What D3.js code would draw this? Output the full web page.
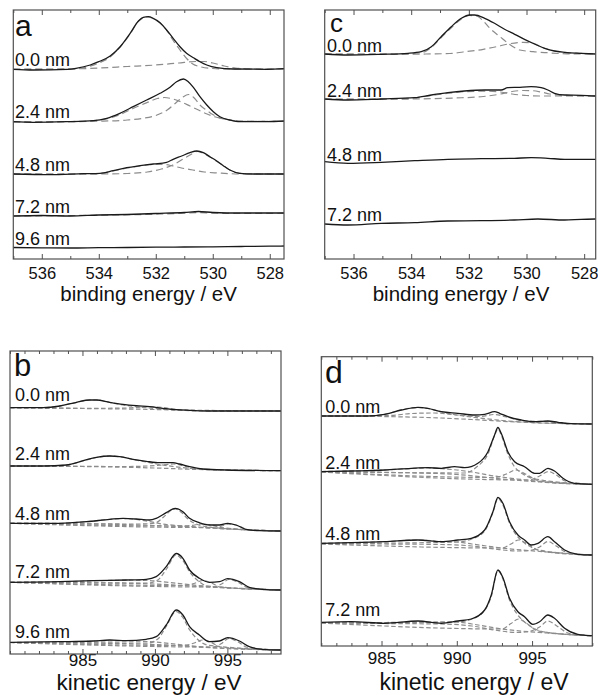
<!DOCTYPE html>
<html><head><meta charset="utf-8">
<script src="https://cdn.jsdelivr.net/npm/d3@7"></script>
<style>
html,body{margin:0;padding:0;background:#fff;}
svg{display:block;font-family:"Liberation Sans",Arial,sans-serif;}
</style></head>
<body>
<svg id="chart" width="598" height="695"></svg>
<script>
// ---------------- DATA ----------------
// panel a : O 1s, binding energy (eV) vs intensity (a.u.)
const ticksA = [536, 534, 532, 530, 528];
const labelsA = ["0.0 nm", "2.4 nm", "4.8 nm", "7.2 nm", "9.6 nm"];
const a00 = [[537,189.7],[536.3,189],[535.1,189.7],[534.8,190.7],[534.3,194],[534,197.3],[533.6,203],[533.25,212.3],[532.9,225.7],[532.6,238.3],[532.44,241.7],[532.26,242.3],[532.09,240.7],[531.85,236.3],[531.62,229],[531.39,220.7],[531.15,212.3],[530.92,205.7],[530.68,201.3],[530.45,197.3],[530.21,194],[529.86,191.3],[529.28,190],[528.1,189.7],[527.5,190.3]];
const a00fit = [
  [[537,190],[535,190],[534.5,191.5],[534,196],[533.6,202],[533.25,212],[532.9,225],[532.6,238],[532.3,242],[532.1,240.5],[531.85,236],[531.6,228],[531.4,219],[531.15,209],[530.9,200],[530.7,195],[530.4,192],[530,190.5],[529.5,190],[527.5,190]],
  [[537,189.5],[535,190],[534,191],[533,192.5],[532,194],[531.2,196],[530.6,197.5],[530.3,197.5],[530,196],[529.6,193],[529.2,191],[528.5,190],[527.5,190]]
];
const a24 = [[537,137.3],[536.3,136.7],[535.13,137.3],[534.19,138.3],[533.72,140.7],[533.26,145.7],[532.79,152.3],[532.32,159],[531.85,165.7],[531.5,171.7],[531.27,177.3],[531.03,180],[530.86,177.3],[530.68,171.7],[530.45,162.3],[530.21,154],[529.98,147.3],[529.75,142.3],[529.4,139],[529.05,137.3],[528.11,137.3],[527.5,138]];
const a24fit = [
  [[537,137],[535,137.5],[534.2,138.3],[533.7,140.3],[533.25,144.5],[532.8,150.5],[532.3,156.5],[531.95,160.5],[531.7,161.5],[531.4,160],[531.1,157],[530.8,153],[530.5,149],[530.2,145],[529.9,142],[529.5,139.5],[529,138],[527.5,137.5]],
  [[537,137],[535,137.3],[534,137.8],[533,139],[532.5,140.5],[532,143.5],[531.6,149],[531.3,156],[531.05,162],[530.85,164.5],[530.65,161],[530.45,154],[530.2,148.5],[530,144.5],[529.75,141],[529.4,139],[529,137.7],[527.5,137.5]]
];
const a48 = [[537,85],[535.71,84.3],[534.54,85.3],[533.96,85.7],[533.49,88.3],[533.02,91.3],[532.55,93.3],[532.09,95],[531.62,96.7],[531.39,99.7],[531.09,103],[530.8,106.3],[530.56,108],[530.33,106.3],[530.1,102.3],[529.86,98],[529.63,93.3],[529.4,89],[529.05,85.7],[528.58,85],[527.5,85]];
const a48fit = [
  [[537,85],[535,85],[534,85.5],[533.5,88],[533,91],[532.5,93.3],[532,94.5],[531.7,94.5],[531.4,93],[531.1,91],[530.7,89],[530.3,87],[529.8,86],[529,85],[527.5,85]],
  [[537,85],[534,85],[533,85.5],[532.3,87],[531.8,90],[531.4,94],[531.1,99],[530.8,104],[530.55,107.5],[530.35,106],[530.1,102],[529.85,97.5],[529.6,93],[529.4,89],[529.05,85.7],[528.5,85],[527.5,85]]
];
const a72 = [[537,43],[536,43.5],[535,43],[534,44],[533,44.5],[532,45.5],[531,46.5],[530.5,47.5],[530,46.5],[529,46],[528,46],[527.5,46]];
const a72fit = [[[537,43],[534,43.8],[532,44.8],[531,45.8],[530.5,46.3],[530,45.8],[529,45.6],[527.5,45.8]]];
const a96 = [[537,11.5],[536,11.2],[535,11],[534,11.3],[533,11.5],[532,11.8],[531,12],[530,12.2],[529,12.5],[528,12.8],[527.5,13]];
const a96fit = [];

// panel c : O 1s, second sample
const ticksC = [536, 534, 532, 530, 528];
const labelsC = ["0.0 nm", "2.4 nm", "4.8 nm", "7.2 nm"];
const c00 = [[537,205],[536.19,204],[535.04,204.7],[534.11,205.7],[533.65,207.3],[533.3,212.3],[532.96,222.3],[532.61,232.3],[532.26,240.7],[531.97,244],[531.8,244],[531.45,240.7],[531.11,235.7],[530.76,229.7],[530.41,224.7],[530.07,219.7],[529.72,215],[529.37,210.7],[529.03,208],[528.68,206.7],[528.1,205.7],[527.6,205]];
const c00fit = [
  [[537,205],[534.5,205],[534,205.3],[533.6,206.5],[533.3,211.5],[532.96,221.5],[532.6,231.5],[532.26,240],[531.97,243.5],[531.73,243],[531.5,238],[531.27,230.7],[530.92,222.3],[530.64,215.7],[530.23,209],[529.77,207.3],[529.3,206.3],[528.6,205.2],[527.6,205]],
  [[537,205],[534.5,204.8],[533.5,205],[532.66,205.5],[532.2,207],[531.5,209.7],[531.04,212.3],[530.64,215],[530.12,216.7],[529.77,215.7],[529.54,212.8],[529.37,210.7],[529.03,208],[528.68,206.7],[528.1,205.7],[527.6,205]]
];
const c24 = [[537,160],[536.19,159],[535.04,160],[533.88,161.3],[533.3,164],[532.73,166.3],[532.15,168],[531.45,169],[530.88,169],[530.65,171.3],[530.3,171.7],[529.84,172.3],[529.49,171.3],[529.26,169],[529.03,165.7],[528.68,164],[528.1,163.7],[527.6,163]];
const c24fit = [
  [[537,159.5],[534,160],[532.5,161],[531.5,162.5],[530.9,165],[530.5,167.5],[530.1,168.5],[529.8,168.3],[529.5,167],[529.2,165],[528.9,164],[528.5,163.5],[527.6,163]],
  [[537,159.8],[535,160],[534,160.8],[533.3,163.5],[532.7,165.8],[532.15,167.3],[531.45,167.8],[530.9,167],[530.5,165],[530,163.5],[529.5,163],[528.5,163],[527.6,163]]
];
const c48 = [[537,97.3],[536.19,95.7],[535.04,96.7],[533.88,98.3],[532.73,99.7],[531.57,100.3],[530.42,100.7],[529.84,101.3],[529.26,100.7],[528.68,99.7],[527.6,99.7]];
const c72 = [[537,35],[536.19,34],[535.04,35.7],[533.88,36.3],[532.73,38],[531.57,38.3],[530.42,39],[529.61,40],[528.68,39],[528.1,39.7],[527.6,40]];

// panel b : Auger, kinetic energy (eV)
const ticksB = [985, 990, 995];
const labelsB = ["0.0 nm", "2.4 nm", "4.8 nm", "7.2 nm", "9.6 nm"];
const b00 = [[980,246.3],[982.29,246.3],[983.44,248],[984.59,251.7],[985.5,254],[985.96,254],[986.88,251.7],[987.8,249.7],[988.72,248.3],[989.63,247.3],[990.55,245.7],[991.47,244.3],[992.39,243.7],[993.76,243],[996.06,243],[998.7,243]];
const b00fit = [
  [[980,246.3],[985,245.5],[990,244.5],[993,243.3],[998.7,243]],
  [[980,246.3],[986,245.7],[988,246],[989.5,247],[990.5,246.5],[991.5,244.5],[993,243.3],[998.7,243]],
  [[980,246.3],[982.3,246.3],[983.4,248],[984.6,251.7],[985.5,254],[986,254],[986.9,251.5],[987.8,249],[988.7,247.3],[989.6,246],[990.5,245],[992,244],[998.7,243]]
];
const b24 = [[980,188],[982.29,188],[983.9,189],[985.05,193.3],[985.96,196.7],[986.88,198],[987.57,197.3],[988.49,194.7],[989.4,192.7],[990.32,191.3],[991.24,191.3],[991.7,190],[992.39,187.3],[993.3,185],[994.91,184],[998.7,183.3]];
const b24fit = [
  [[980,188],[985,187.5],[990,186],[993,184.5],[998.7,183.3]],
  [[980,188],[988,187.5],[989.5,188],[990.5,189],[991.3,190],[992,188],[993,185],[998.7,183.3]],
  [[980,188],[982.3,188],[983.9,189],[985,193],[986,196.5],[986.9,198],[987.6,197.2],[988.5,194.5],[989.4,192],[990.3,189.5],[991.3,187.5],[992.5,185.5],[994,184.3],[998.7,183.3]]
];
const b48 = [[980,130.7],[983.44,130.7],[985.28,132.3],[986.88,134.7],[987.8,135.7],[988.72,135],[989.63,134],[990.09,135.7],[990.78,141.3],[991.4,145.7],[991.93,142.3],[992.39,135.7],[993.07,131.3],[993.76,129],[994.45,129],[995.02,130.7],[995.6,129],[996.28,124.7],[997.2,123.3],[998.7,123]];
const b48fit = [
  [[980,130.7],[985,130.2],[990,128.5],[993,126.5],[995,125],[998.7,123]],
  [[980,130.7],[989,130],[990,131],[990.6,137],[991.1,143.5],[991.4,145],[991.8,142],[992.2,136],[992.7,131],[993.3,128],[994,126.5],[998.7,123]],
  [[980,130.7],[991.5,128],[992.5,128.5],[993.2,130],[993.9,129],[994.6,126.5],[998.7,123]],
  [[980,130.7],[993.5,126.5],[994.5,127.5],[995.1,130],[995.7,128.5],[996.4,124.5],[998.7,123]],
  [[980,130.7],[983.4,130.7],[985.3,132.3],[986.9,134.7],[987.8,135.5],[988.7,134.5],[989.6,132.5],[990.5,130],[992,128],[998.7,123]]
];
const b72 = [[980,71.7],[983.44,72.3],[985.73,73.3],[988.03,74],[989.4,74.7],[990.09,77.3],[990.78,87.3],[991.47,100.5],[991.93,95.7],[992.39,84],[993.07,75.7],[993.76,71.7],[994.45,72.3],[995.02,75.3],[995.83,72.3],[996.51,66.7],[997.43,64.7],[998.7,64]];
const b72fit = [
  [[980,71.7],[985,71.3],[990,70],[993,67.5],[995,66],[998.7,64]],
  [[980,71.7],[989.5,71],[990.2,74],[990.8,85],[991.45,99],[991.9,94],[992.4,82],[993,73],[993.6,68],[998.7,64]],
  [[980,71.7],[992,68.5],[992.8,71],[993.3,73.5],[993.9,71],[994.5,67],[998.7,64]],
  [[980,71.7],[994,67],[994.6,70],[995.1,74.5],[995.7,72],[996.4,66.5],[998.7,64]],
  [[980,71.7],[984,72.3],[986,73.3],[988,73.8],[989.5,73.5],[991,71.5],[993,68.5],[998.7,64]]
];
const b96 = [[980,11.7],[983.44,12.3],[985.73,13],[986.88,14],[988.03,13.3],[989.4,14.7],[990.09,17.3],[990.78,29],[991.47,44],[991.93,39],[992.39,27.3],[993.07,19],[993.76,12.3],[994.45,13],[995.02,16.3],[995.83,13],[996.51,7.3],[997.43,4.7],[998.7,4]];
const b96fit = [
  [[980,11.5],[985,11],[990,9.5],[993,7],[995,5.5],[998.7,4]],
  [[980,11.5],[989.5,11],[990.2,15],[990.8,28],[991.45,42.5],[991.9,37],[992.4,24],[993,14],[993.6,9],[998.7,4]],
  [[980,11.5],[992,8.5],[992.8,11.5],[993.3,14],[993.9,11.5],[994.5,7],[998.7,4]],
  [[980,11.5],[994,7],[994.6,10.5],[995.1,15.5],[995.7,12.5],[996.4,6.5],[998.7,4]],
  [[980,11.5],[984,12],[986.5,13],[988,13],[989.5,12.5],[991,10.5],[993,7.5],[998.7,4]]
];

// panel d : Auger, second sample
const ticksD = [985, 990, 995];
const labelsD = ["0.0 nm", "2.4 nm", "4.8 nm", "7.2 nm"];
const d00 = [[981,230],[984.1,230],[985.2,231.7],[986.31,236],[987.42,238.7],[988.08,237.7],[988.97,234.3],[990.07,232.7],[991.18,231],[991.85,231.7],[992.51,234.3],[992.84,232.7],[993.39,229.3],[994.28,226],[995.17,224.3],[996.05,225],[996.72,223.7],[997.6,222.3],[999,222]];
const d00fit = [
  [[981,230],[985,229.5],[988,228.5],[991,226.5],[994,224],[996,222.8],[999,222]],
  [[981,230],[985.5,230.5],[987,232.5],[988.5,233],[990,231],[991.5,229.5],[992.5,231.5],[993.3,229],[994.5,225],[996,224.5],[996.8,223],[999,222]],
  [[981,230],[984.1,230],[985.2,231.7],[986.3,236],[987.4,238.5],[988.1,237.5],[989,234],[990,231],[991.5,228],[993,225.5],[995,223.5],[999,222]]
];
const d24 = [[981,174.3],[982.99,175],[985.2,176],[986.98,177.7],[988.08,178.3],[988.97,177.7],[989.85,179.3],[990.52,178.3],[991.4,182.7],[992.07,194.3],[992.51,211],[992.73,218.5],[992.95,212.7],[993.39,194.3],[993.84,184.3],[994.5,179.3],[995.17,172.7],[995.5,172.7],[996.05,177.7],[996.49,175],[997.05,167.7],[997.82,162.7],[999,161.7]];
const d24fit = [
  [[981,174.3],[986,173.5],[990,171.5],[993,167],[995.5,164],[997,162.5],[999,161.7]],
  [[981,174.5],[983,175],[985.2,176],[987,177.5],[988.1,178],[989,177.3],[990,176],[991,174],[992.5,170],[994,167],[996,164],[999,161.7]],
  [[981,174.3],[990.5,173],[991.4,180],[992.07,192],[992.5,210],[992.73,217],[992.95,211],[993.39,192],[993.8,180],[994.4,172],[995,167.5],[996,164],[999,161.7]],
  [[981,174.3],[992.5,168.5],[993.3,172],[993.9,176],[994.5,172.5],[995.2,167],[999,161.7]],
  [[981,174],[994.8,166],[995.5,170],[996.1,174.5],[996.6,171],[997.2,165],[999,161.7]]
];
const d48 = [[981,102.7],[982.99,103.3],[985.2,104.3],[987.42,106],[988.97,104.3],[990.07,106],[990.96,107.7],[991.85,116],[992.4,134.3],[992.73,148.5],[993.06,142.7],[993.5,124.3],[994.06,111],[994.5,106],[994.94,101],[995.39,102.7],[996.05,109.3],[996.49,104.3],[997.16,96],[998.04,91.7],[999,91]];
const d48fit = [
  [[981,102.3],[985,102],[989,101.5],[991,100],[992.5,97],[994,95],[994.8,95.5],[995.5,99],[996.05,104.5],[996.6,100],[997.3,93.5],[998,91.5],[999,91]],
  [[981,102.3],[990,104],[991,107],[991.85,115],[992.4,133.5],[992.73,147.5],[993.06,141],[993.5,123],[994,110],[994.5,103],[995.2,97],[996,94],[999,91]],
  [[981,102],[993,98],[993.6,102],[994.1,106],[994.7,102],[995.4,96],[999,91]],
  [[981,102.7],[983,103.3],[985.2,104.3],[987.4,106],[989,104.5],[990,104],[991,102],[993,98],[996,94],[999,91]]
];
const d72 = [[981,23.7],[982.99,24.3],[985.2,22.7],[987.42,25],[988.97,22.7],[990.07,25],[990.96,27],[991.85,36],[992.29,51],[992.73,76],[993.06,68.5],[993.5,47.7],[994.06,34.3],[994.5,29.3],[995.05,21.7],[995.5,24.3],[996.05,31],[996.49,27.7],[997.16,17.7],[998.04,11.7],[999,10.3]];
const d72fit = [
  [[981,23],[985,22.5],[989,22],[991,20],[992.5,16],[994,13.5],[994.8,14.5],[995.5,19],[996.05,25],[996.6,20.5],[997.3,13.5],[998,11],[999,10.3]],
  [[981,23],[990,24],[991,27],[991.85,35.5],[992.3,50],[992.73,75.5],[993.06,67],[993.5,46],[994,32],[994.5,24],[995.2,17],[996,13.5],[999,10.3]],
  [[981,23],[993,17],[993.6,22.5],[994.1,27],[994.7,22],[995.4,15],[999,10.3]],
  [[981,23.5],[985,23.5],[988,24],[990,24],[991,22],[993,17],[996,13],[999,10.3]]
];

// ---------------- LAYOUT ----------------
const panels = [
  {letter:"a", letterSize:30, letterPos:[15,36], box:[13.3,10,284,259], xdom:[537,527.5], ydom:249,
   ticks:ticksA, tickPad:8, tickFont:16.5, title:"binding energy / eV", titleX:148.6, titleY:301, titleSize:20.5, dash:"7,4",
   spectra:[a00,a24,a48,a72,a96], fits:[a00fit,a24fit,a48fit,a72fit,a96fit], labels:labelsA, labelX:15, labelY:[66,118.3,170.7,212.7,245]},
  {letter:"c", letterSize:26, letterPos:[330,32], box:[324.7,10,595.7,259], xdom:[537,527.6], ydom:249,
   ticks:ticksC, tickPad:8, tickFont:16.5, title:"binding energy / eV", titleX:461, titleY:301, titleSize:20.5, dash:"7,4",
   spectra:[c00,c24,c48,c72], fits:[c00fit,c24fit,[],[]], labels:labelsC, labelX:327, labelY:[52.3,96.7,160.7,220.5]},
  {letter:"b", letterSize:31, letterPos:[14,376], box:[10,351,281,654], xdom:[980,998.7], ydom:303,
   ticks:ticksB, tickPad:0, tickFont:17, title:"kinetic energy / eV", titleX:149, titleY:690, titleSize:22.5, dash:"4.5,2.5",
   spectra:[b00,b24,b48,b72,b96], fits:[b00fit,b24fit,b48fit,b72fit,b96fit], labels:labelsB, labelX:15, labelY:[401,460,520,578.3,637.7]},
  {letter:"d", letterSize:32, letterPos:[325,383], box:[321.3,356.7,592.3,646], xdom:[981,999], ydom:289.3,
   ticks:ticksD, tickPad:6, tickFont:17, title:"kinetic energy / eV", titleX:474, titleY:690, titleSize:23, dash:"4.5,2.5",
   spectra:[d00,d24,d48,d72], fits:[d00fit,d24fit,d48fit,d72fit], labels:labelsD, labelX:325.3, labelY:[413.3,469,540,615.7]}
];

const svg = d3.select("#chart");
const frameColor = "#505050";

panels.forEach(p => {
  const [x0,y0,x1,y1] = p.box;
  const x = d3.scaleLinear().domain(p.xdom).range([x0,x1]);
  const y = d3.scaleLinear().domain([0,p.ydom]).range([y1,y0]);
  const g = svg.append("g");

  const lo = Math.min(...p.xdom), hi = Math.max(...p.xdom);
  const minor = d3.range(Math.ceil(lo), Math.floor(hi)+0.001, 1).filter(v => !p.ticks.includes(v));

  const styleTicks = s => { s.select(".domain").remove(); s.selectAll("line").attr("stroke",frameColor); };
  g.append("g").attr("transform",`translate(0,${y1})`)
    .call(d3.axisBottom(x).tickValues(minor).tickSize(-3).tickFormat("")).call(styleTicks);
  g.append("g").attr("transform",`translate(0,${y0})`)
    .call(d3.axisTop(x).tickValues(minor).tickSize(-3).tickFormat("")).call(styleTicks);
  g.append("g").attr("transform",`translate(0,${y1})`)
    .call(d3.axisBottom(x).tickValues(p.ticks).tickSize(-5).tickPadding(p.tickPad).tickFormat(d3.format("d")))
    .call(styleTicks)
    .call(s => s.selectAll("text").attr("fill","#111").style("font-size",p.tickFont+"px")
      .style("font-family","'Liberation Sans',Arial,sans-serif"));
  g.append("g").attr("transform",`translate(0,${y0})`)
    .call(d3.axisTop(x).tickValues(p.ticks).tickSize(-5).tickFormat("")).call(styleTicks);

  const line = d3.line().x(d => x(d[0])).y(d => y(d[1])).curve(d3.curveMonotoneX);

  p.fits.forEach(set => set.forEach(comp => {
    g.append("path").attr("d", line(comp)).attr("fill","none")
      .attr("stroke","#8c8c8c").attr("stroke-width",1.2).attr("stroke-dasharray",p.dash);
  }));
  p.spectra.forEach(s => {
    g.append("path").attr("d", line(s)).attr("fill","none")
      .attr("stroke","#1a1a1a").attr("stroke-width",1.3);
  });

  g.append("rect").attr("x",x0).attr("y",y0).attr("width",x1-x0).attr("height",y1-y0)
    .attr("fill","none").attr("stroke",frameColor).attr("stroke-width",1.2);

  p.labels.forEach((t,i) => {
    g.append("text").attr("x",p.labelX).attr("y",p.labelY[i]).text(t)
      .attr("fill","#111").style("font-size","18px");
  });
  g.append("text").attr("x",p.letterPos[0]).attr("y",p.letterPos[1]).text(p.letter)
    .attr("fill","#111").style("font-size",p.letterSize+"px");
  g.append("text").attr("x",p.titleX).attr("y",p.titleY).attr("text-anchor","middle").text(p.title)
    .attr("fill","#111").style("font-size",p.titleSize+"px");
});
</script>
</body></html>
